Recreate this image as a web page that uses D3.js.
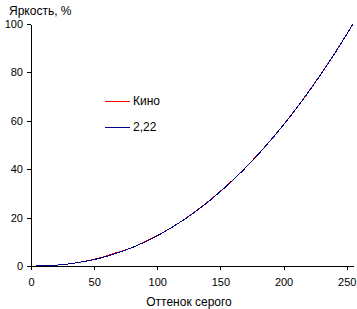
<!DOCTYPE html>
<html>
<head>
<meta charset="utf-8">
<script src="https://cdn.jsdelivr.net/npm/d3@7"></script>
<style>
  body { margin: 0; background: #fff; }
  text { font-family: "Liberation Sans", Arial, sans-serif; font-size: 11px; fill: #000; }
</style>
</head>
<body>
<div id="chart"></div>
<script>
// gray level (x) and brightness, %
var grayLevels = [4, 16, 32, 48, 56, 64, 80, 96, 112, 128, 144, 160, 176, 192, 208, 224, 240, 255];
var kinoValues = [0.0, 0.2, 1.0, 2.5, 3.6, 4.9, 7.6, 11.5, 16.1, 21.7, 28.2, 35.6, 44.0, 53.3, 63.7, 75.1, 87.5, 100];
var gammaValues = [0.0, 0.2, 1.0, 2.45, 3.4, 4.65, 7.6, 11.4, 16.1, 21.6, 28.1, 35.5, 43.9, 53.3, 63.6, 75.0, 87.4, 100];
var xTicks = [0, 50, 100, 150, 200, 250];
var yTicks = [0, 20, 40, 60, 80, 100];
var seriesNames = ["Кино", "2,22"];
var seriesColors = ["#ff0000", "#000080"];

var width = 357, height = 309;

var svg = d3.select("#chart").append("svg")
	.attr("width", width)
	.attr("height", height);

var x = d3.scaleLinear().domain([0, 255]).range([31, 353]);
var y = d3.scaleLinear().domain([0, 100]).range([266, 24]);

// axes
var xAxis = svg.append("g")
	.attr("transform", "translate(0," + y(0) + ")")
	.call(d3.axisBottom(x).tickValues(xTicks).tickSize(4).tickPadding(8).tickSizeOuter(0));
var yAxis = svg.append("g")
	.attr("transform", "translate(" + x(0) + ",0)")
	.call(d3.axisLeft(y).tickValues(yTicks).tickSize(4).tickPadding(4).tickSizeOuter(0));

[xAxis, yAxis].forEach(function(a) {
	a.select(".domain").attr("stroke", "#000").attr("shape-rendering", "crispEdges");
	a.selectAll(".tick line").attr("stroke", "#000").attr("shape-rendering", "crispEdges");
	a.selectAll("text").attr("font-family", null).attr("font-size", null).style("font-size", "11px");
});

svg.append("text")
	.attr("x", 9).attr("y", 15)
	.style("font-size", "12px")
	.text("Яркость, %");

svg.append("text")
	.attr("x", 189).attr("y", 306)
	.attr("text-anchor", "middle")
	.style("font-size", "12px")
	.text("Оттенок серого");

var line = d3.line()
	.x(function(d) { return x(d[0]); })
	.y(function(d) { return y(d[1]); })
	.curve(d3.curveMonotoneX);

[kinoValues, gammaValues].forEach(function(vals, i) {
	svg.append("path")
		.datum(grayLevels.map(function(g, j) { return [g, vals[j]]; }))
		.attr("fill", "none")
		.attr("stroke", seriesColors[i])
		.attr("stroke-width", 1)
		.attr("shape-rendering", "crispEdges")
		.attr("d", line);
});

// legend
var legend = svg.append("g");
seriesNames.forEach(function(name, i) {
	var ly = 101 + i * 26;
	legend.append("rect")
		.attr("x", 105).attr("y", ly)
		.attr("width", 25).attr("height", 1)
		.attr("fill", seriesColors[i]);
	legend.append("text")
		.attr("x", 133).attr("y", ly + 4)
		.style("font-size", "12px")
		.text(name);
});
</script>
</body>
</html>
